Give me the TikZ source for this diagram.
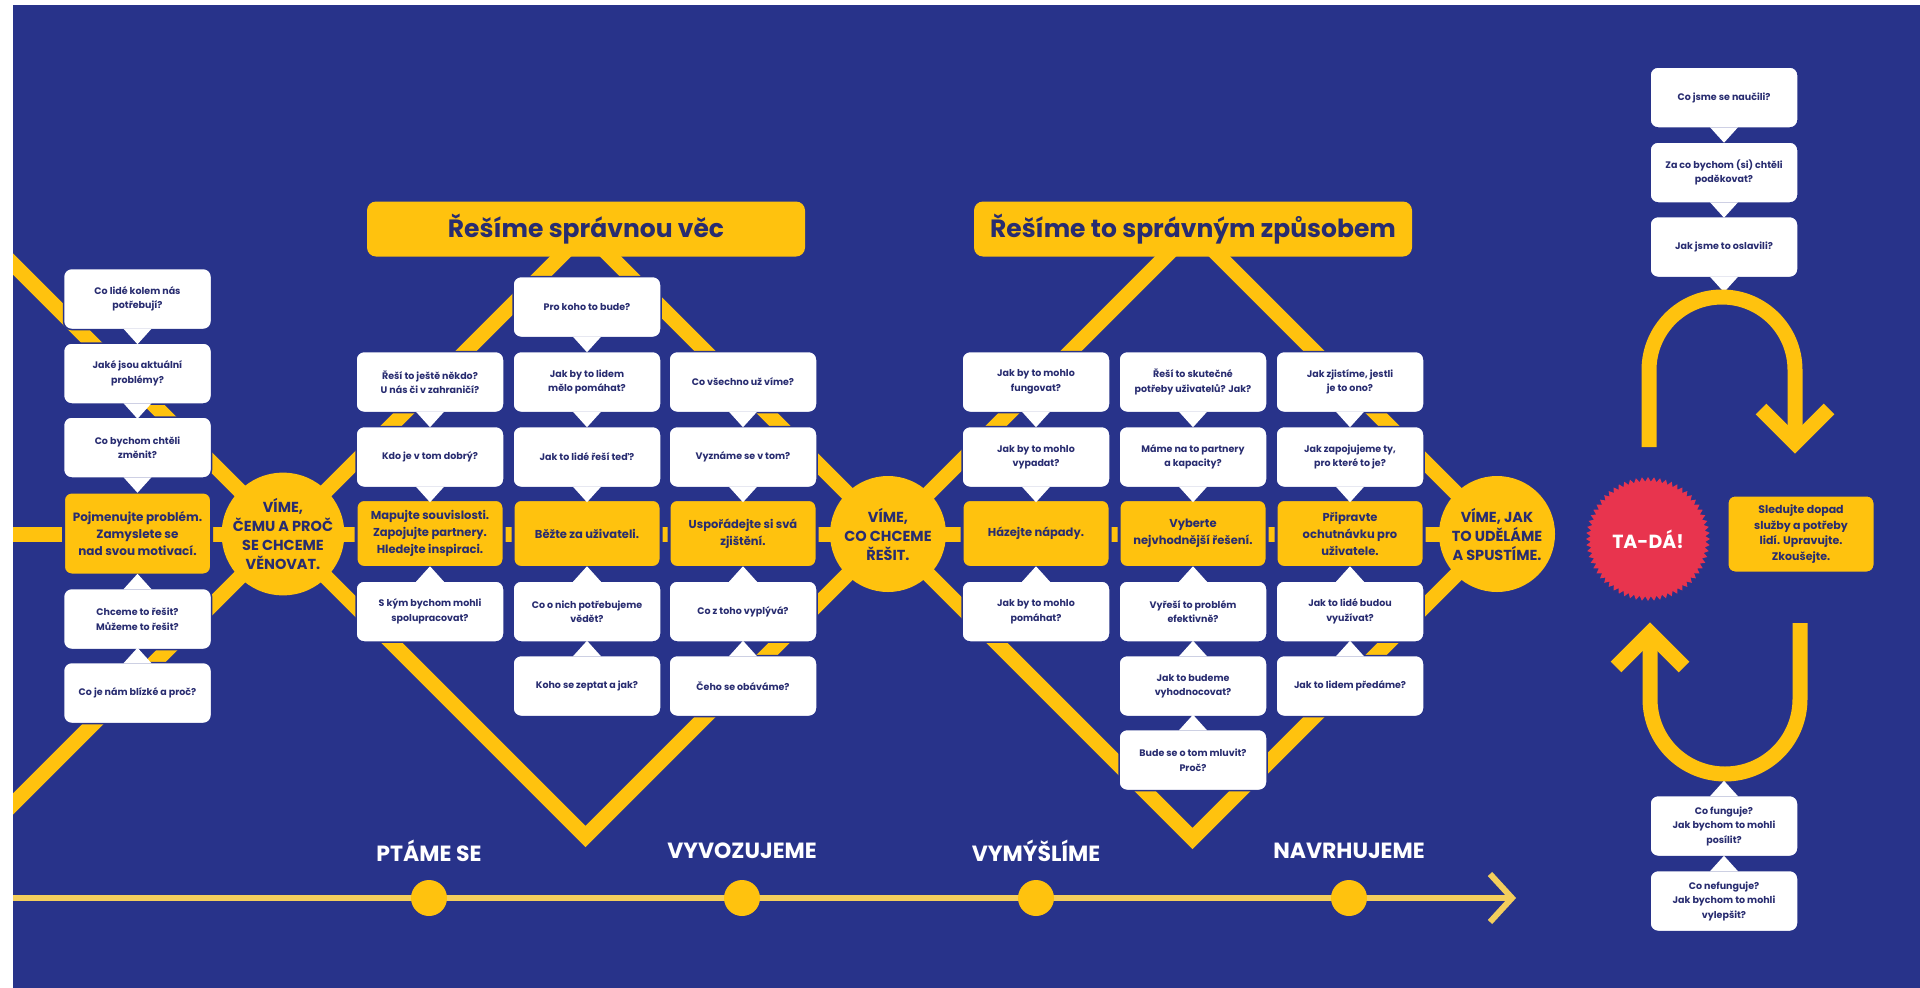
\documentclass[tikz,border=0pt]{standalone}
\usepackage{fontspec}
\setmainfont{Poppins}
\usetikzlibrary{shapes.geometric}
\definecolor{bg}{RGB}{40,51,138}
\definecolor{yel}{RGB}{255,194,14}
\definecolor{txt}{RGB}{40,44,112}
\definecolor{tred}{RGB}{232,52,78}
\definecolor{tl}{RGB}{244,206,92}
\newcommand\tailD[1]{\fill[white] ([xshift=-14pt,yshift=1.5pt]#1.south) -- ([yshift=-14pt]#1.south) -- ([xshift=14pt,yshift=1.5pt]#1.south) -- cycle;}
\newcommand\tailU[1]{\fill[white] ([xshift=-14pt,yshift=-1.5pt]#1.north) -- ([yshift=14pt]#1.north) -- ([xshift=14pt,yshift=-1.5pt]#1.north) -- cycle;}
\begin{document}
\begin{tikzpicture}[x=1pt,y=-1pt,
  wbox/.style={rectangle, fill=white, draw=bg, line width=1.5pt, rounded corners=8pt, minimum width=148pt, minimum height=61pt, inner sep=2pt, align=center, text=txt, font=\bfseries\fontsize{9.5}{14.5}\selectfont},
  ybox/.style={rectangle, fill=yel, draw=bg, line width=3pt, rounded corners=8pt, minimum width=148pt, minimum height=68pt, inner sep=2pt, align=center, text=txt, font=\bfseries\fontsize{11.5}{17}\selectfont},
  tbox/.style={rectangle, fill=yel, rounded corners=9pt, minimum width=438pt, minimum height=55pt, text=txt, font=\bfseries\fontsize{25}{29}\selectfont},
  vcirc/.style={circle, fill=yel, minimum size=116pt, inner sep=0pt, align=center, text=txt, font=\bfseries\fontsize{14.5}{19}\selectfont},
  lab/.style={text=white, font=\bfseries\fontsize{22}{26}\selectfont},
  dot/.style={circle, fill=yel, minimum size=36pt, inner sep=0pt},
  yline/.style={draw=yel, line width=15pt, line join=miter},
  tline/.style={draw=tl, line width=6pt}
]
\fill[white] (0,0) rectangle (1920,988);
\useasboundingbox (0,0) rectangle (1920,988);
\fill[bg] (13,5) rectangle (1920,988);

% skeleton coordinates
\coordinate (v1c) at (283,534);
\coordinate (v2c) at (888,534);
\coordinate (v3c) at (1497,534);
\coordinate (a1) at (585.5,231.5);
\coordinate (b1v) at (585.5,836.5);
\coordinate (a2) at (1192.5,229.5);
\coordinate (b2v) at (1192.5,838.5);
\coordinate (in1) at (0,251);
\coordinate (in2) at (0,817);
\coordinate (in3) at (0,534);

\begin{scope}
\clip (13,5) rectangle (1920,988);
\draw[yline] (in1) -- (v1c) -- (a1) -- (v2c) -- (a2) -- (v3c) -- (b2v) -- (v2c) -- (b1v) -- (v1c) -- (in2);
\draw[yline] (in3) -- (v3c);
\end{scope}

% timeline
\coordinate (tl0) at (13,898);
\coordinate (tend) at (1512,898);
\coordinate (tup) at (1490,874);
\coordinate (tdn) at (1490,922);
\draw[tline] (tl0) -- ([xshift=-3pt]tend);
\draw[tline, line join=miter] (tup) -- (tend) -- (tdn);
\node[dot] (p1) at (429,898) {};
\node[dot] (p2) at (742,898) {};
\node[dot] (p3) at (1036,898) {};
\node[dot] (p4) at (1349,898) {};
\node[lab] (lb1) at (429,851) {PTÁME SE};
\node[lab] (lb2) at (742,851) {VYVOZUJEME};
\node[lab] (lb3) at (1036,851) {VYMÝŠLÍME};
\node[lab] (lb4) at (1349,851) {NAVRHUJEME};

% titles
\node[tbox] (t1) at (586,229) {Řešíme správnou věc};
\node[tbox] (t2) at (1193,229) {Řešíme to správným způsobem};

% circles
\node[vcirc] (v1) at (v1c) {VÍME,\\ČEMU A PROČ\\SE CHCEME\\VĚNOVAT.};
\node[vcirc] (v2) at (v2c) {VÍME,\\CO CHCEME\\ŘEŠIT.};
\node[vcirc] (v3) at (v3c) {VÍME, JAK\\TO UDĚLÁME\\A SPUSTÍME.};

% left column
\node[wbox] (l1) at (137.5,299) {Co lidé kolem nás\\potřebují?};
\node[wbox] (l2) at (137.5,373.5) {Jaké jsou aktuální\\problémy?};
\node[wbox] (l3) at (137.5,447.5) {Co bychom chtěli\\změnit?};
\node[ybox, minimum height=83pt, font=\bfseries\fontsize{12}{17}\selectfont] (ly) at (137.5,533.5) {Pojmenujte problém.\\Zamyslete se\\nad svou motivací.};
\node[wbox] (l5) at (137.5,619) {Chceme to řešit?\\Můžeme to řešit?};
\node[wbox] (l6) at (137.5,693) {Co je nám blízké a proč?};
\tailD{l1}\tailD{l2}\tailD{l3}\tailU{l5}\tailU{l6}

% column A
\node[wbox] (a2b) at (430,382) {Řeší to ještě někdo?\\U nás či v zahraničí?};
\node[wbox] (a3b) at (430,457) {Kdo je v tom dobrý?};
\node[ybox] (ay) at (430,533.5) {Mapujte souvislosti.\\Zapojujte partnery.\\Hledejte inspiraci.};
\node[wbox] (a5b) at (430,611.5) {S kým bychom mohli\\spolupracovat?};
\tailD{a2b}\tailD{a3b}\tailU{a5b}

% column B
\node[wbox] (b1b) at (587,307) {Pro koho to bude?};
\node[wbox] (b2b) at (587,382) {Jak by to lidem\\mělo pomáhat?};
\node[wbox] (b3b) at (587,457) {Jak to lidé řeší teď?};
\node[ybox] (by) at (587,533.5) {Běžte za uživateli.};
\node[wbox] (b5b) at (587,611.5) {Co o nich potřebujeme\\vědět?};
\node[wbox] (b6b) at (587,686) {Koho se zeptat a jak?};
\tailD{b1b}\tailD{b2b}\tailD{b3b}\tailU{b5b}\tailU{b6b}

% column C
\node[wbox] (c2b) at (743,382) {Co všechno už víme?};
\node[wbox] (c3b) at (743,457) {Vyznáme se v tom?};
\node[ybox] (cy) at (743,533.5) {Uspořádejte si svá\\zjištění.};
\node[wbox] (c5b) at (743,611.5) {Co z toho vyplývá?};
\node[wbox] (c6b) at (743,686) {Čeho se obáváme?};
\tailD{c2b}\tailD{c3b}\tailU{c5b}\tailU{c6b}

% column D
\node[wbox] (d2b) at (1036,382) {Jak by to mohlo\\fungovat?};
\node[wbox] (d3b) at (1036,457) {Jak by to mohlo\\vypadat?};
\node[ybox] (dy) at (1036,533.5) {Házejte nápady.};
\node[wbox] (d5b) at (1036,611.5) {Jak by to mohlo\\pomáhat?};
\tailD{d2b}\tailD{d3b}\tailU{d5b}

% column E
\node[wbox] (e2b) at (1193,382) {Řeší to skutečné\\potřeby uživatelů? Jak?};
\node[wbox] (e3b) at (1193,457) {Máme na to partnery\\a kapacity?};
\node[ybox] (ey) at (1193,533.5) {Vyberte\\nejvhodnější řešení.};
\node[wbox] (e5b) at (1193,611.5) {Vyřeší to problém\\efektivně?};
\node[wbox] (e6b) at (1193,686) {Jak to budeme\\vyhodnocovat?};
\node[wbox] (e7b) at (1193,760) {Bude se o tom mluvit?\\Proč?};
\tailD{e2b}\tailD{e3b}\tailU{e5b}\tailU{e6b}\tailU{e7b}

% column F
\node[wbox] (f2b) at (1350,382) {Jak zjistíme, jestli\\je to ono?};
\node[wbox] (f3b) at (1350,457) {Jak zapojujeme ty,\\pro které to je?};
\node[ybox] (fy) at (1350,533.5) {Připravte\\ochutnávku pro\\uživatele.};
\node[wbox] (f5b) at (1350,611.5) {Jak to lidé budou\\využívat?};
\node[wbox] (f6b) at (1350,686) {Jak to lidem předáme?};
\tailD{f2b}\tailD{f3b}\tailU{f5b}\tailU{f6b}

% right part
\node[wbox] (r1) at (1724,97.5) {Co jsme se naučili?};
\node[wbox] (r2) at (1724,172.5) {Za co bychom (si) chtěli\\poděkovat?};
\node[wbox] (r3) at (1724,247) {Jak jsme to oslavili?};
\tailD{r1}\tailD{r2}\tailD{r3}

\coordinate (u1s) at (1649,447);
\coordinate (u1b) at (1649,370);
\coordinate (u1e) at (1795,443);
\coordinate (u1l) at (1761,409);
\coordinate (u1r) at (1829,409);
\draw[yline] (u1s) -- (u1b) arc[start angle=180, end angle=360, radius=73] -- (u1e);
\draw[yline] (u1l) -- (u1e) -- (u1r);

\node[star, star points=64, star point ratio=1.08, fill=tred, minimum size=124pt, inner sep=0pt, text=white, font=\bfseries\fontsize{19}{22}\selectfont] (tada) at (1648,539) {TA-DÁ!};
\node[ybox, minimum height=78pt, font=\bfseries\fontsize{11}{15.5}\selectfont] (sy) at (1801,534) {Sledujte dopad\\služby a potřeby\\lidí. Upravujte.\\Zkoušejte.};

\coordinate (u2s) at (1800,623);
\coordinate (u2b) at (1800,699);
\coordinate (u2e) at (1650,633);
\coordinate (u2l) at (1616,667);
\coordinate (u2r) at (1684,667);
\draw[yline] (u2s) -- (u2b) arc[start angle=0, end angle=180, radius=75] -- (u2e);
\draw[yline] (u2l) -- (u2e) -- (u2r);

\node[wbox] (s1) at (1724,826) {Co funguje?\\Jak bychom to mohli\\posílit?};
\node[wbox] (s2) at (1724,901) {Co nefunguje?\\Jak bychom to mohli\\vylepšit?};
\tailU{s1}\tailU{s2}
\end{tikzpicture}
\end{document}
